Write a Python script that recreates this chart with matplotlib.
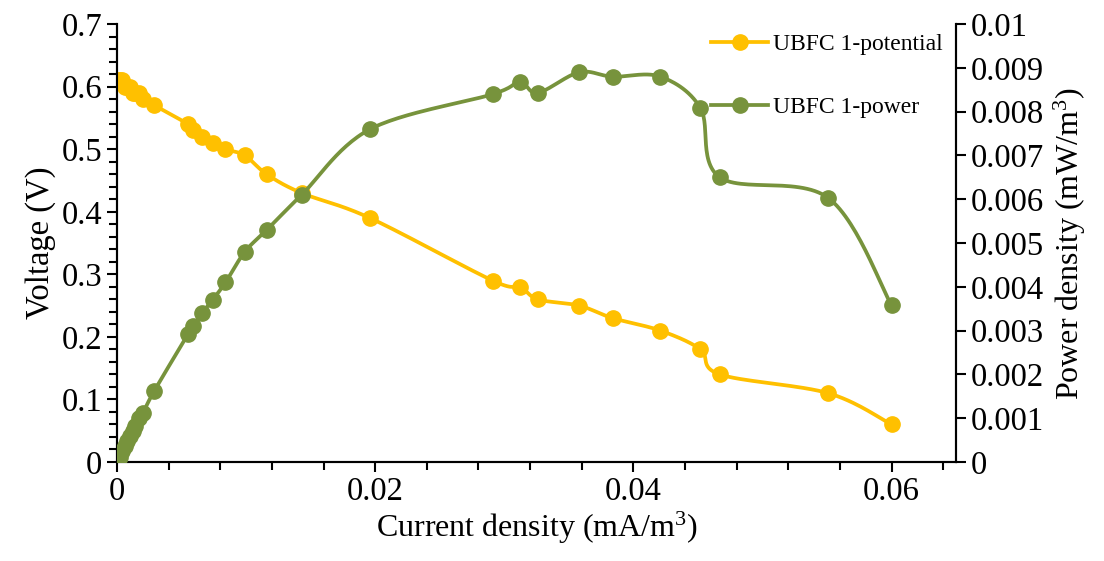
import numpy as np
import matplotlib
matplotlib.use('Agg')
import matplotlib.pyplot as plt
from matplotlib.ticker import MultipleLocator, FuncFormatter

plt.rcParams['font.family'] = ['Liberation Serif', 'DejaVu Serif']
plt.rcParams['mathtext.fontset'] = 'custom'
plt.rcParams['mathtext.rm'] = 'Liberation Serif'
plt.rcParams['mathtext.default'] = 'regular'

# values
current = [0.00005, 0.0002, 0.0004, 0.0006, 0.0008, 0.0010, 0.0012, 0.0014, 0.0017, 0.0020,
           0.0029, 0.0055, 0.0059, 0.0066, 0.0074, 0.0084, 0.0099, 0.0116, 0.0143, 0.0196,
           0.0291, 0.0312, 0.0326, 0.0358, 0.0384, 0.0421, 0.0452, 0.0467, 0.0551, 0.0600]
voltage = [0.61, 0.61, 0.61, 0.60, 0.60, 0.60, 0.59, 0.59, 0.59, 0.58,
           0.57, 0.54, 0.53, 0.52, 0.51, 0.50, 0.49, 0.46, 0.43, 0.39,
           0.29, 0.28, 0.26, 0.25, 0.23, 0.21, 0.18, 0.14, 0.11, 0.06]
power = [0.00003, 0.00012, 0.00024, 0.00036, 0.00048, 0.0006, 0.00071, 0.00083, 0.001, 0.00112,
         0.00163, 0.00292, 0.0031, 0.0034, 0.0037, 0.0041, 0.0048, 0.0053, 0.0061, 0.0076,
         0.0084, 0.00868, 0.00843, 0.0089, 0.0088, 0.0088, 0.00808, 0.0065, 0.00603, 0.00358]

yellow = '#FFC000'
green = '#77933C'

fig = plt.figure(figsize=(11.04, 5.61), dpi=100)
ax = fig.add_axes([0.106, 0.1765, 0.76, 0.7805])
ax2 = ax.twinx()

ax.set_xlim(0, 0.065)
ax.set_ylim(0, 0.7)
ax2.set_ylim(0, 0.01)


def smooth(axis, xs, ys, n=30):
    # excel-like bezier smoothing, done in screen space
    pts = axis.transData.transform(np.column_stack([xs, ys]))
    p = np.vstack([pts[0], pts, pts[-1]])
    out = []
    t = np.linspace(0, 1, n)[:, None]
    for i in range(1, len(p) - 2):
        p0, p1, p2, p3 = p[i - 1], p[i], p[i + 1], p[i + 2]
        c1 = p1 + (p2 - p0) / 6
        c2 = p2 - (p3 - p1) / 6
        seg = ((1 - t) ** 3) * p1 + 3 * ((1 - t) ** 2) * t * c1 + 3 * (1 - t) * t ** 2 * c2 + t ** 3 * p2
        out.append(seg)
    out = np.vstack(out)
    d = axis.transData.inverted().transform(out)
    return d[:, 0], d[:, 1]


lw = 2.7
ms = 11

sx, sy = smooth(ax, current, voltage)
ax.plot(sx, sy, color=yellow, lw=lw, zorder=3)
ax.plot(current, voltage, 'o', color=yellow, ms=ms, zorder=4)
l1, = ax.plot([], [], '-o', color=yellow, lw=lw, ms=ms, label='UBFC 1-potential')

px, py = smooth(ax2, current, power)
ax2.plot(px, py, color=green, lw=lw, zorder=3)
ax2.plot(current, power, 'o', color=green, ms=ms, zorder=4)
l2, = ax2.plot([], [], '-o', color=green, lw=lw, ms=ms, label='UBFC 1-power')

fmt = FuncFormatter(lambda v, p: '%g' % round(v, 6))
ax.xaxis.set_major_locator(MultipleLocator(0.02))
ax.xaxis.set_minor_locator(MultipleLocator(0.004))
ax.yaxis.set_major_locator(MultipleLocator(0.1))
ax.yaxis.set_minor_locator(MultipleLocator(0.02))
ax2.yaxis.set_major_locator(MultipleLocator(0.001))
ax.xaxis.set_major_formatter(fmt)
ax.yaxis.set_major_formatter(fmt)
ax2.yaxis.set_major_formatter(fmt)

for a in (ax, ax2):
    a.spines['top'].set_visible(False)
    a.tick_params(which='major', length=7, width=1.5, labelsize=23.5, direction='out')
    a.tick_params(which='minor', length=6, width=1.5, direction='out')
    for s in a.spines.values():
        s.set_linewidth(1.5)

ax.set_xlabel('Current density (mA/m$^{3}$)', fontsize=23, labelpad=2)
ax.set_ylabel('Voltage (V)', fontsize=23.5, labelpad=4)
ax2.set_ylabel('Power density (mW/m$^{3}$)', fontsize=23, labelpad=6)

ax2.legend(handles=[l1, l2], loc='upper right', bbox_to_anchor=(0.995, 1.0),
           frameon=False, fontsize=17, labelspacing=1.75, handlelength=2.4,
           handletextpad=0.2, borderaxespad=0.0)

fig.savefig('out.png', dpi=100)
